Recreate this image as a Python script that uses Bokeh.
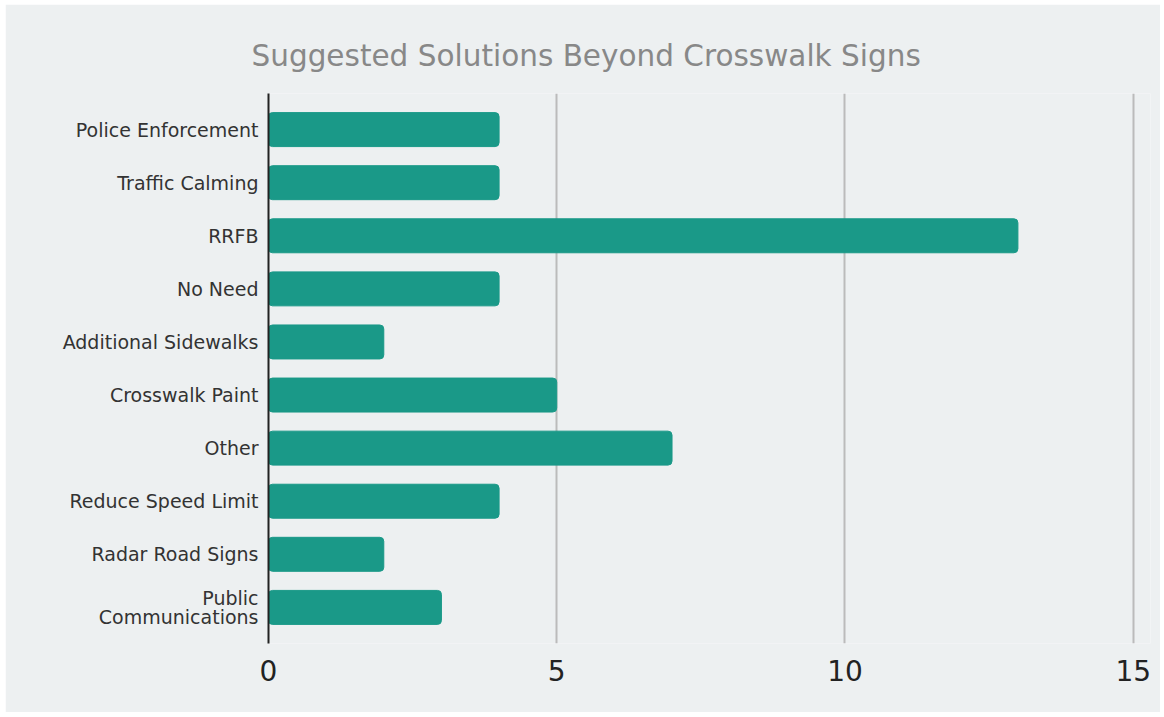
from bokeh.plotting import figure
from bokeh.models import Range1d, FixedTicker
from bokeh.embed import file_html
from bokeh.resources import INLINE

categories = ["Police Enforcement", "Traffic Calming", "RRFB", "No Need",
              "Additional Sidewalks", "Crosswalk Paint", "Other",
              "Reduce Speed Limit", "Radar Road Signs", "Public\nCommunications"]
counts = [4, 4, 13, 4, 2, 5, 7, 4, 2, 3]
x_ticks = [0, 5, 10, 15]

pos = list(range(len(categories)))

p = figure(width=1155, height=708, output_backend="svg", toolbar_location=None,
           x_range=Range1d(0, 15.3), y_range=Range1d(len(categories) - 1 + 0.68, -0.68),
           min_border_left=263, min_border_right=10, min_border_top=89, min_border_bottom=69,
           margin=(4, 4, 5, 5))
p.background_fill_color = "#edf0f1"
p.border_fill_color = "#edf0f1"
p.outline_line_color = None

p.hbar(y=pos, right=counts, left=0, height=0.64, color="#1a9988",
       border_radius=4)

p.title.text = "Suggested Solutions Beyond Crosswalk Signs"
p.title.align = "left"
p.title.text_font = "DejaVu Sans"
p.title.text_font_size = "29.5px"
p.title.text_font_style = "normal"
p.title.text_color = "#888888"
p.title.offset = -17
p.title.standoff = 41

p.xaxis.ticker = FixedTicker(ticks=x_ticks)
p.xaxis.axis_line_color = None
p.xaxis.major_tick_line_color = None
p.xaxis.minor_tick_line_color = None
p.xaxis.major_label_text_font = "DejaVu Sans"
p.xaxis.major_label_text_font_size = "28px"
p.xaxis.major_label_text_color = "#222222"
p.xaxis.major_label_standoff = 10

p.yaxis.ticker = FixedTicker(ticks=pos)
p.yaxis.major_label_overrides = {i: c for i, c in enumerate(categories)}
p.yaxis.axis_line_color = "#222222"
p.yaxis.axis_line_width = 2
p.yaxis.major_tick_line_color = None
p.yaxis.minor_tick_line_color = None
p.yaxis.major_label_text_font = "DejaVu Sans"
p.yaxis.major_label_text_font_size = "19px"
p.yaxis.major_label_text_color = "#333333"
p.yaxis.major_label_text_line_height = 0.85
p.yaxis.major_label_standoff = 4

p.xgrid.grid_line_color = "#bbbbbb"
p.xgrid.grid_line_width = 2
p.ygrid.grid_line_color = None

open("out.html", "w").write(file_html(p, INLINE))
